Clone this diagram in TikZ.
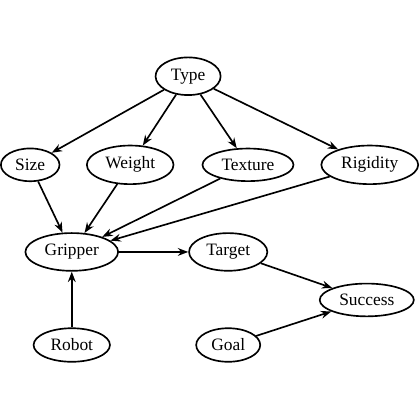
\documentclass[tikz,border=0pt]{standalone}
\usepackage{fontspec}
\setmainfont{Liberation Serif}
\usetikzlibrary{arrows.meta,shapes.geometric}

\begin{document}
\begin{tikzpicture}[every node/.style={align=center,font=\normalsize},
    var/.style={draw, line width=0.95pt, ellipse, inner sep=3.3pt},
    link/.style={-{Stealth[length=2.1mm]}, line width=0.95pt}]
      \useasboundingbox (0,0) rectangle (8.485,-8.485);
      \node[var] (type) at (3.80,-1.54) {Type};
      \node[var] (size) at (0.61,-3.33) {Size};
      \node[var] (weight) at (2.63,-3.33) {Weight};
      \node[var] (texture) at (5.01,-3.33) {Texture};
      \node[var] (rigidity) at (7.47,-3.33) {Rigidity};
      \node[var] (gripper) at (1.45,-5.09) {Gripper};
      \node[var] (target) at (4.61,-5.09) {Target};
      \node[var] (success) at (7.41,-6.06) {Success};
      \node[var] (robot) at (1.45,-6.97) {Robot};
      \node[var] (goal) at (4.61,-6.97) {Goal};
      \foreach \v in {size,weight,texture,rigidity} {
        \draw[link] (type) -- (\v);
        \draw[link] (\v) -- (gripper);
      }
      \draw[link] (robot) -- (gripper);
      \draw[link] (gripper) -- (target);
      \draw[link] (target) -- (success);
      \draw[link] (goal) -- (success);
    \end{tikzpicture}
\end{document}
